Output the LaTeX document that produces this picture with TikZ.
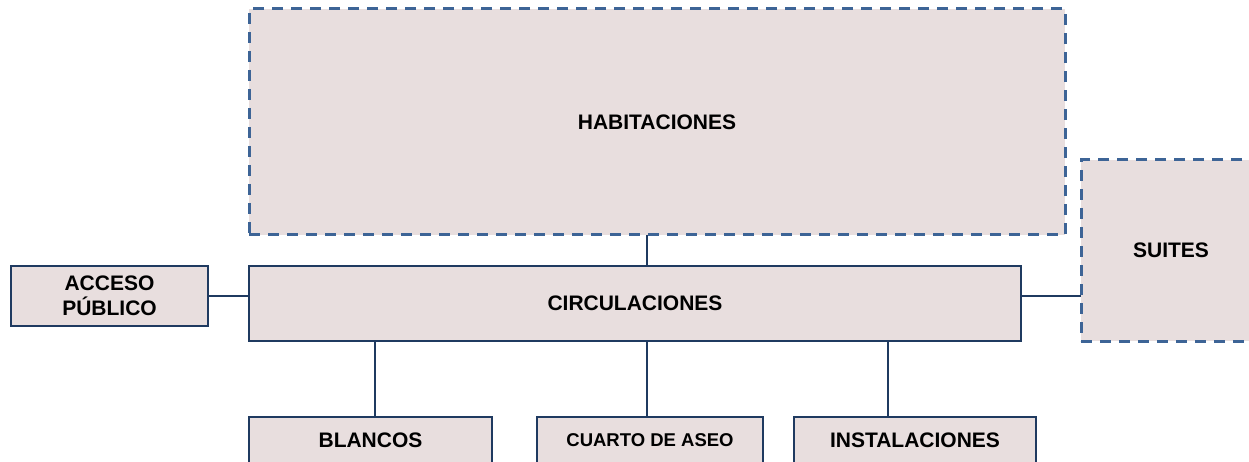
\documentclass[tikz,border=0pt]{standalone}
\usepackage{fontspec}
\setmainfont{Liberation Sans}
\definecolor{boxfill}{HTML}{E8DEDE}
\definecolor{dashblue}{HTML}{3D6496}
\definecolor{navy}{HTML}{1F3A60}
\tikzset{
  solidbox/.style={draw=navy, line width=2pt, fill=boxfill, rectangle, inner sep=0pt, outer sep=0pt,
    font=\fontsize{21}{25}\selectfont\bfseries, align=center},
  dashbox/.style={draw=dashblue, line width=3pt, fill=boxfill, rectangle, inner sep=0pt, outer sep=0pt,
    dash pattern=on 11pt off 8pt, font=\fontsize{21}{25}\selectfont\bfseries, align=center},
  link/.style={draw=navy, line width=2pt}
}
\begin{document}
\begin{tikzpicture}[x=1pt,y=-1pt]
\useasboundingbox (0,0) rectangle (1249,462);
\clip (0,0) rectangle (1249,462);
\node[dashbox, minimum width=816pt, minimum height=226pt] (hab) at (657,122) {\raisebox{-3pt}{HABITACIONES}};
\node[dashbox, minimum width=180pt, minimum height=181pt] (suites) at (1171,250.5) {SUITES};
\node[solidbox, minimum width=197pt, minimum height=60pt] (acc) at (109.5,296) {ACCESO\\PÚBLICO};
\node[solidbox, minimum width=772pt, minimum height=75pt] (circ) at (635,303.5) {CIRCULACIONES};
\node[solidbox, minimum width=243pt, minimum height=46pt] (bl) at (370.5,440) {BLANCOS};
\node[solidbox, minimum width=226pt, minimum height=46pt, font=\fontsize{18.5}{22}\selectfont\bfseries] (ca) at (650,440) {CUARTO DE ASEO};
\node[solidbox, minimum width=242pt, minimum height=46pt] (inst) at (915,440) {INSTALACIONES};
\draw[link] ([xshift=-10pt]hab.south) -- ([xshift=-10pt]hab.south |- circ.north);
\draw[link] (acc.east) -- (acc.east -| circ.west);
\draw[link] (acc.east -| circ.east) -- (acc.east -| suites.west);
\draw[link] ([xshift=4.5pt]bl.north) -- ([xshift=4.5pt]bl.north |- circ.south);
\draw[link] ([xshift=-3pt]ca.north) -- ([xshift=-3pt]ca.north |- circ.south);
\draw[link] ([xshift=-27pt]inst.north) -- ([xshift=-27pt]inst.north |- circ.south);
\end{tikzpicture}
\end{document}
